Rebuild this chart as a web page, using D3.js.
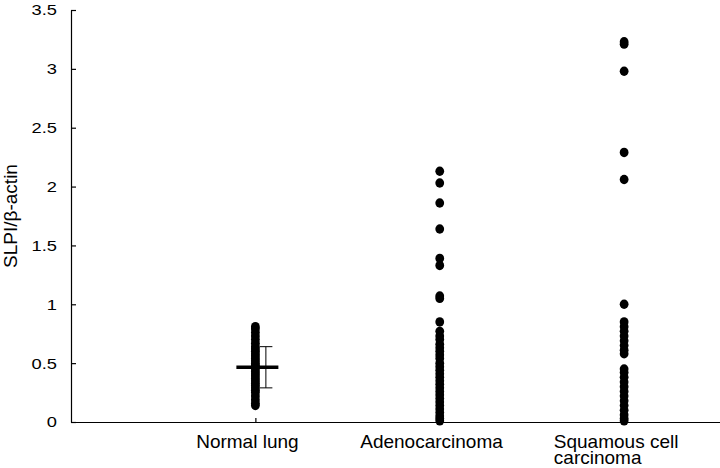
<!DOCTYPE html>
<html><head><meta charset="utf-8">
<script src="https://cdn.jsdelivr.net/npm/d3@7/dist/d3.min.js"></script>
<style>
html,body{margin:0;padding:0;background:#fff;}
svg{display:block;font-family:"Liberation Sans",Arial,Helvetica,sans-serif;}
</style></head>
<body><svg id="chart" width="720" height="468"></svg>
<script>
// ---- data ----
const categories = ["Normal lung", "Adenocarcinoma", "Squamous cell carcinoma"];
const categoryLines = [["Normal lung"], ["Adenocarcinoma"], ["Squamous cell", "carcinoma"]];
const normalLung = [0.81,0.79,0.76,0.73,0.70,0.67,0.64,0.62,0.60,0.58,0.56,0.54,0.52,0.50,0.48,0.47,0.45,0.43,0.41,0.39,0.37,0.35,0.33,0.31,0.29,0.27,0.25,0.22,0.19,0.16,0.14];
const adenocarcinoma = [2.13,2.03,1.86,1.64,1.39,1.33,1.07,1.05,0.85,0.77,0.73,0.70,0.66,0.63,0.60,0.57,0.54,0.50,0.47,0.44,0.41,0.38,0.35,0.32,0.29,0.26,0.23,0.20,0.17,0.14,0.11,0.08,0.05,0.03,0.01];
const squamous = [3.23,3.21,2.98,2.29,2.06,1.00,0.85,0.81,0.77,0.73,0.69,0.65,0.61,0.58,0.45,0.42,0.38,0.34,0.30,0.26,0.22,0.18,0.14,0.10,0.06,0.03,0.01];
const normalMean = 0.465;
const normalSdRange = [0.29, 0.64];
const yTicks = [0, 0.5, 1, 1.5, 2, 2.5, 3, 3.5];
const yTickLabels = ["0", "0.5", "1", "1.5", "2", "2.5", "3", "3.5"];
const yTitle = "SLPI/\u03B2-actin";

const seriesValues = [normalLung, adenocarcinoma, squamous];

// ---- scales ----
const svg = d3.select("#chart");
const x = d3.scaleLinear().domain([0, 3.52]).range([71, 720]);
const y = d3.scaleLinear().domain([0, 3.5]).range([422, 10]);

// ---- axes ----
const yAxis = d3.axisLeft(y).tickValues(yTicks)
  .tickFormat((d, i) => yTickLabels[i])
  .tickSizeInner(-5).tickSizeOuter(0).tickPadding(0);
const gy = svg.append("g").attr("transform", "translate(71,0)").call(yAxis);
gy.select(".domain").attr("stroke", "#000").attr("stroke-width", 1.2);
gy.selectAll(".tick line").attr("stroke", "#000").attr("stroke-width", 1.2);
gy.selectAll(".tick text")
  .attr("font-size", 15.5).attr("fill", "#000")
  .attr("font-family", "Liberation Sans, Arial, sans-serif")
  .attr("x", -14 / 1.18).attr("transform", "scale(1.18,1)");

const xAxis = d3.axisBottom(x).tickValues([1, 2, 3]).tickFormat("")
  .tickSizeInner(-4).tickSizeOuter(0);
const gx = svg.append("g").attr("transform", "translate(0,422)").call(xAxis);
gx.select(".domain").attr("stroke", "#000").attr("stroke-width", 1.2);
gx.selectAll(".tick line").attr("stroke", "#000").attr("stroke-width", 1.2);

// category labels
categoryLines.forEach((lines, i) => {
  const t = svg.append("text")
    .attr("font-size", 19).attr("fill", "#000").attr("text-anchor", "start");
  lines.forEach((ln, j) => {
    t.append("tspan").attr("x", 0).attr("y", 448 + j * 16).text(ln);
  });
  const w = t.node().getBBox().width;
  t.attr("transform", `translate(${x(i + 1) - 8 - w / 2},0)`);
});

// y title
svg.append("text")
  .attr("transform", `translate(17,${(y(0) + y(3.5)) / 2}) rotate(-90)`)
  .attr("text-anchor", "middle").attr("font-size", 19).attr("fill", "#000")
  .text(yTitle);

// ---- dots ----
seriesValues.forEach((vals, i) => {
  svg.append("g").selectAll("ellipse").data(vals).join("ellipse")
    .attr("cx", x(i + 1))
    .attr("cy", d => y(d))
    .attr("rx", 4.4).attr("ry", 4.7)
    .attr("fill", "#000");
});

// ---- mean and SD for normal lung ----
const cx0 = x(1);
svg.append("line")
  .attr("x1", cx0 - 19).attr("x2", cx0 + 23)
  .attr("y1", y(normalMean)).attr("y2", y(normalMean))
  .attr("stroke", "#000").attr("stroke-width", 3.5);
const ex = cx0 + 10.5;
svg.append("line").attr("x1", ex).attr("x2", ex)
  .attr("y1", y(normalSdRange[0])).attr("y2", y(normalSdRange[1]))
  .attr("stroke", "#000").attr("stroke-width", 1);
normalSdRange.forEach(v => {
  svg.append("line").attr("x1", ex - 6).attr("x2", ex + 6.5)
    .attr("y1", y(v)).attr("y2", y(v))
    .attr("stroke", "#000").attr("stroke-width", 1);
});
</script>
</body></html>
